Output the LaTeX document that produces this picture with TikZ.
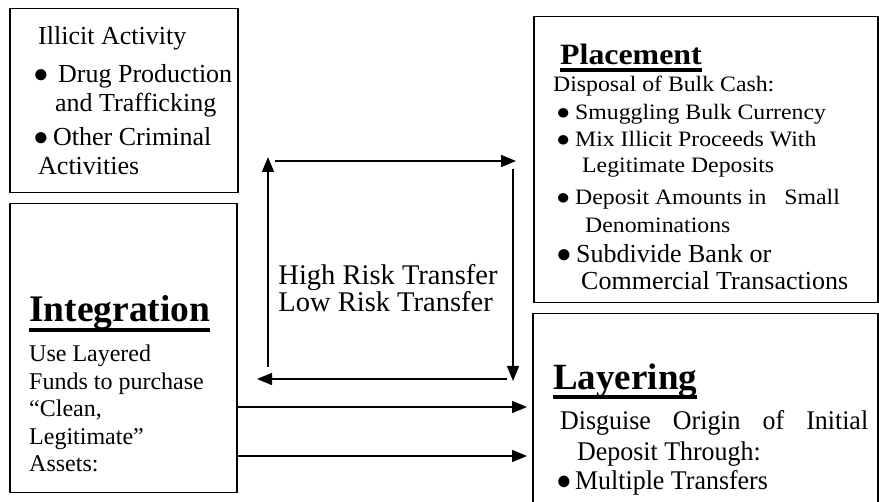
\documentclass[tikz,border=0pt]{standalone}
\usepackage{fontspec}
\setmainfont{Liberation Serif}
\newfontfamily\plfont[FakeStretch=1.08]{Liberation Serif}
\newfontfamily\layfont[FakeStretch=0.96]{Liberation Serif}
\usetikzlibrary{arrows.meta}

\newcommand{\fs}[1]{\fontsize{#1}{#1}\selectfont}
\newcommand{\blt}[1]{\makebox[#1][l]{●}}
\newcommand{\uhead}[3]{\setbox0\hbox{#1}\rlap{\copy0}\rule[-#2]{\wd0}{#3}}

\begin{document}
\begin{tikzpicture}[x=1pt, y=-1pt, >={Triangle[length=15pt,width=12pt]},
    box/.style={draw, line width=1.5pt, anchor=north west, inner sep=0pt},
    txt/.style={anchor=base west, inner sep=0pt},
    flow/.style={->, line width=1.5pt}]
    \useasboundingbox (0,0) rectangle (879,502);
    \clip (0,0) rectangle (879,502);

    % the four boxes
    \node[box, minimum width=228pt, minimum height=184pt] (ill) at (9,8) {};
    \node[box, minimum width=344pt, minimum height=286pt] (place) at (533,16) {};
    \node[box, minimum width=227pt, minimum height=289pt] (integ) at (9,203) {};
    \node[box, minimum width=345pt, minimum height=220pt] (layer) at (532,313) {};

    % illicit activity
    \node[txt, font=\fs{26}] (ill0) at (38,45) {Illicit Activity};
    \node[txt, font=\fs{26}] (ill1) at (33,83) {\blt{25pt}Drug Production};
    \node[txt, font=\fs{26}] (ill2) at (55,112) {and Trafficking};
    \node[txt, font=\fs{26}] (ill3) at (33,146) {\blt{20pt}Other Criminal};
    \node[txt, font=\fs{26}] (ill4) at (38,175) {Activities};

    % placement
    \node[txt, font=\plfont\fs{29.5}\bfseries] (pl0) at (560,65) {\uhead{Placement}{7pt}{4pt}};
    \node[txt, font=\plfont\fs{22}] (pl1) at (553,92) {Disposal of Bulk Cash:};
    \node[txt, font=\plfont\fs{22}] (pl2) at (556,120) {\blt{19pt}Smuggling Bulk Currency};
    \node[txt, font=\plfont\fs{22}] (pl3) at (556,147) {\blt{19pt}Mix Illicit Proceeds With};
    \node[txt, font=\plfont\fs{22}] (pl4) at (582,173) {Legitimate Deposits};
    \node[txt, font=\plfont\fs{22}] (pl5) at (556,205) {\blt{19pt}Deposit Amounts in \ \ Small};
    \node[txt, font=\plfont\fs{22}] (pl6) at (585,233) {Denominations};
    \node[txt, font=\fs{26}] (pl7) at (556,263) {\blt{20pt}Subdivide Bank or};
    \node[txt, font=\fs{26}] (pl8) at (581,290) {Commercial Transactions};

    % integration
    \node[txt, font=\fs{37.5}\bfseries] (in0) at (29,322) {\uhead{Integration}{10pt}{4pt}};
    \node[txt, font=\fs{24}] (in1) at (29,362) {Use Layered};
    \node[txt, font=\fs{24}] (in2) at (29,390) {Funds to purchase};
    \node[txt, font=\fs{24}] (in3) at (29,417) {“Clean,};
    \node[txt, font=\fs{24}] (in4) at (29,445) {Legitimate”};
    \node[txt, font=\fs{24}] (in5) at (29,472) {Assets:};

    % layering
    \node[txt, font=\fs{37}\bfseries] (la0) at (553,390) {\uhead{Layering}{9pt}{4pt}};
    \node[txt, font=\layfont\fs{27}] (la1) at (560,430) {\makebox[308pt][s]{Disguise Origin of Initial}};
    \node[txt, font=\layfont\fs{27}] (la2) at (577,461) {Deposit Through:};
    \node[txt, font=\layfont\fs{27}] (la3) at (556,490) {\blt{19pt}Multiple Transfers};

    % risk cycle
    \node[font=\fs{28.5}, align=left, inner sep=0pt] (risk) at (388,288) {High Risk Transfer\\[-1pt]Low Risk Transfer};
    \coordinate (c1) at (275,161);
    \coordinate (c2) at (516,161);
    \coordinate (c3) at (513,169);
    \coordinate (c4) at (513,381);
    \coordinate (c5) at (507,379);
    \coordinate (c6) at (257,379);
    \coordinate (c7) at (268,367);
    \coordinate (c8) at (268,157);
    \draw[flow] (c1) -- (c2);
    \draw[flow] (c3) -- (c4);
    \draw[flow] (c5) -- (c6);
    \draw[flow] (c7) -- (c8);

    % integration to layering
    \draw[flow, shorten >=5pt] (integ.east |- 0,407) -- (layer.west |- 0,407);
    \draw[flow, shorten >=5pt] (integ.east |- 0,456) -- (layer.west |- 0,456);
\end{tikzpicture}
\end{document}
